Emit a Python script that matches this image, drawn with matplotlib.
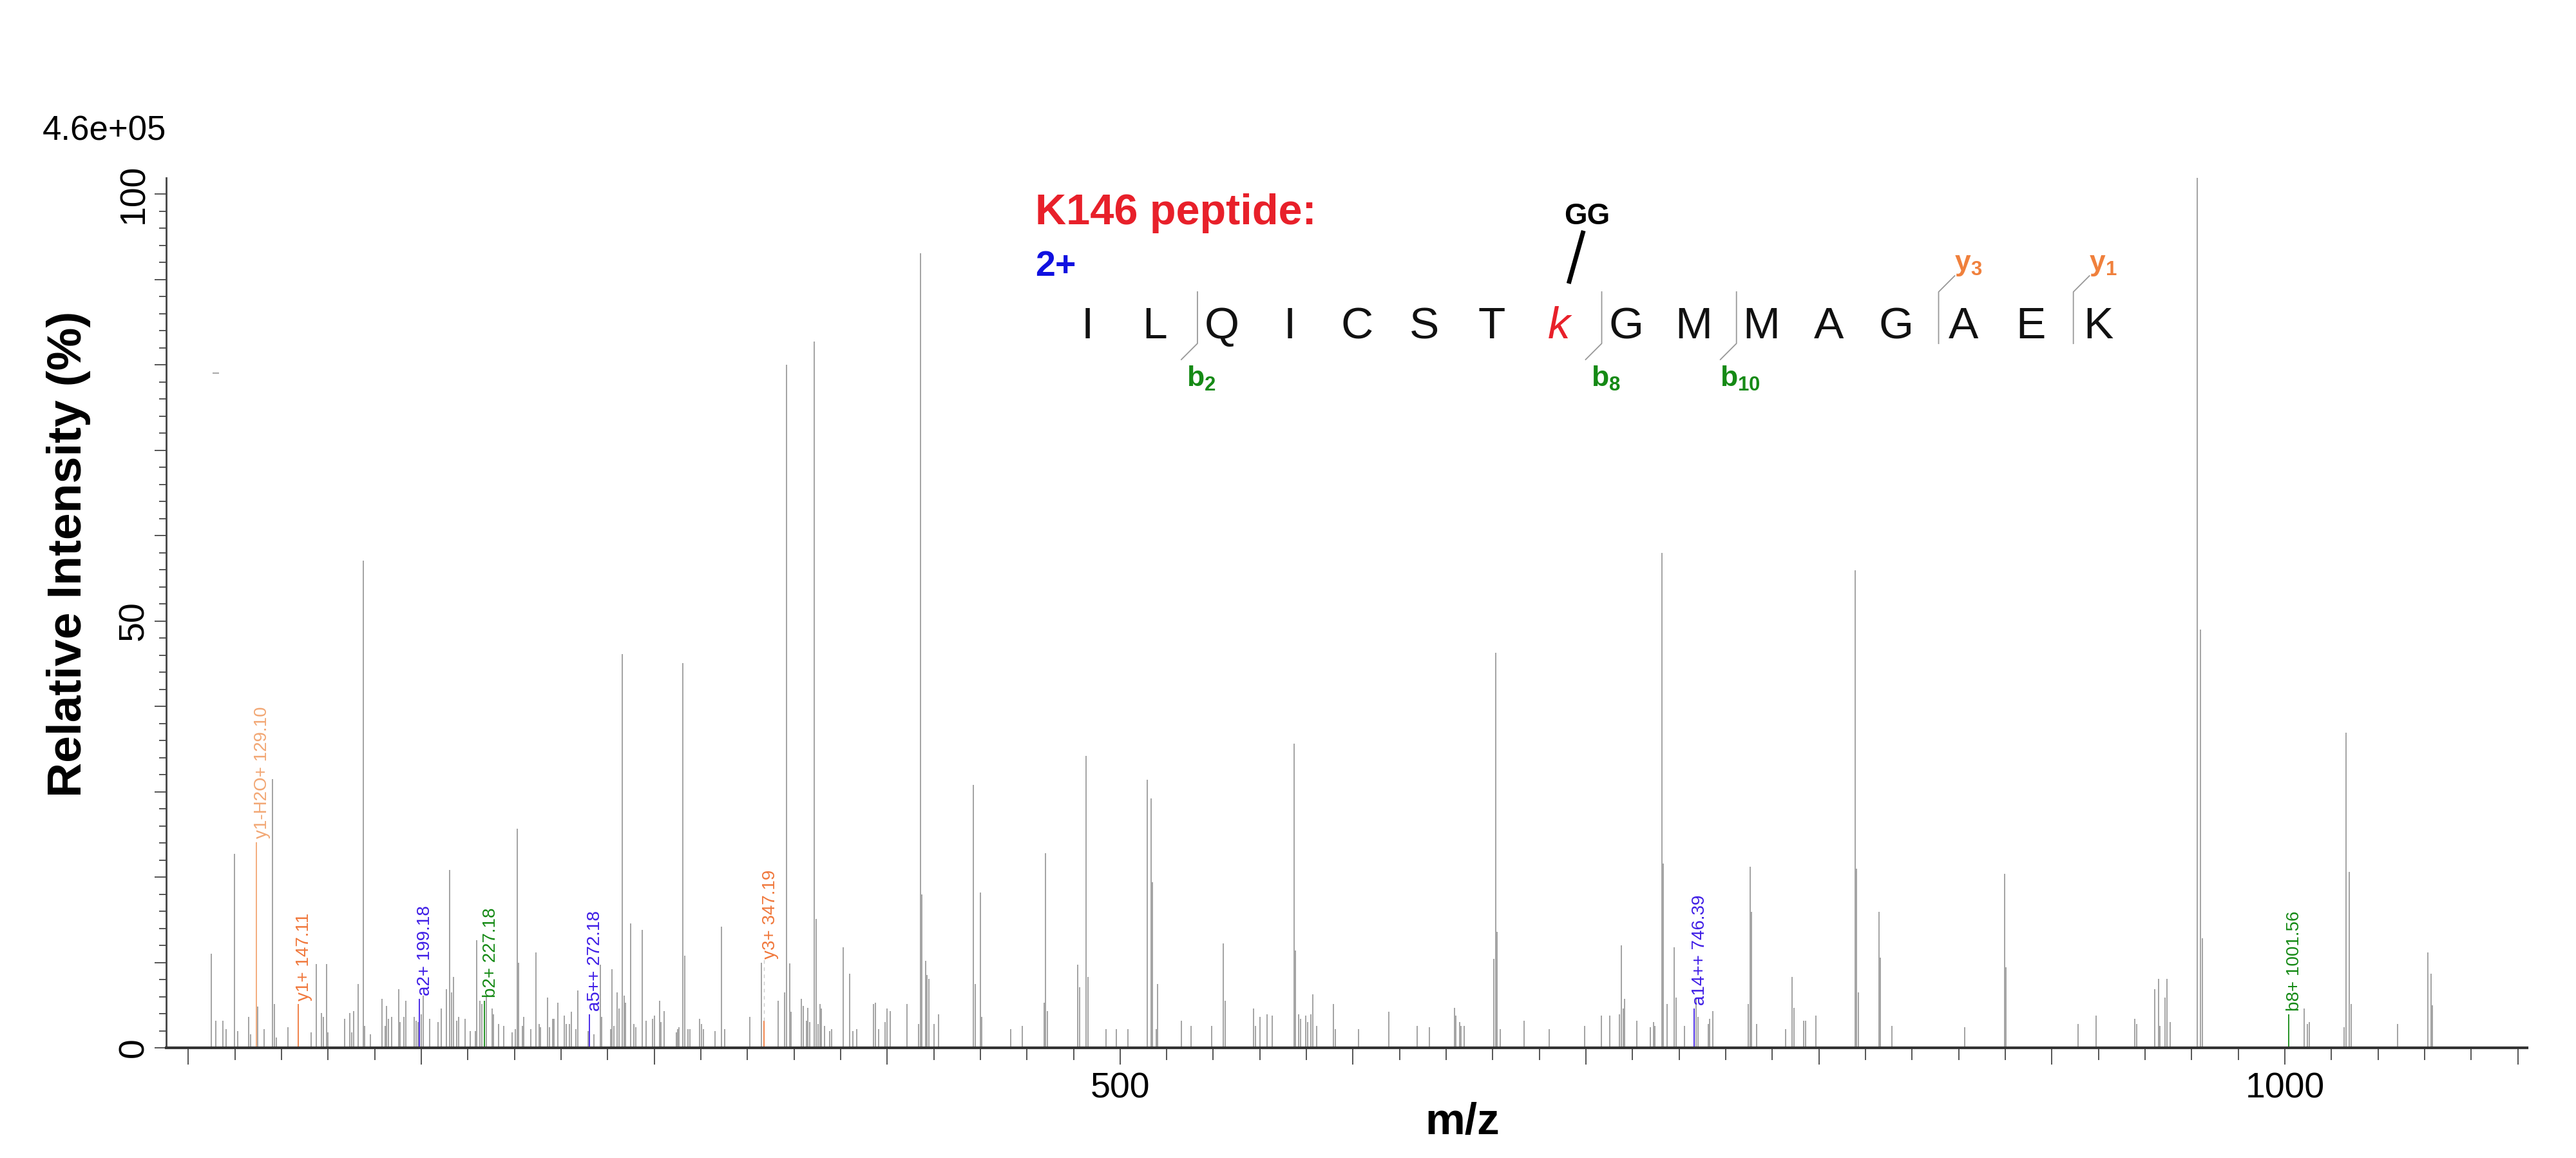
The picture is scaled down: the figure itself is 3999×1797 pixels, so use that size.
import matplotlib.pyplot as plt
from matplotlib.ticker import MultipleLocator, FuncFormatter

plt.rcParams['font.family'] = ['Liberation Sans', 'DejaVu Sans']
plt.rcParams['mathtext.fontset'] = 'custom'
plt.rcParams['mathtext.rm'] = 'Liberation Sans'
plt.rcParams['mathtext.bf'] = 'Liberation Sans:bold'

### Spectrum data (relative intensity %, base peak = 4.6e+05)
peak_mz = [109.9, 111.9, 114.9, 116.3, 119.7, 121.1, 126.0, 126.8, 129.7, 132.6,
           136.1, 136.9, 137.7, 142.7, 152.8, 155.0, 157.1, 157.9, 159.4, 160.0,
           167.2, 169.4, 170.1, 170.9, 173.0, 175.1, 175.8, 178.1, 183.1, 184.4,
           185.2, 186.0, 187.4, 190.4, 191.0, 192.5, 193.3, 197.1, 197.9, 198.6,
           199.9, 200.8, 203.7, 207.3, 208.7, 210.9, 212.3, 213.0, 213.7, 215.2,
           216.1, 218.9, 221.0, 223.2, 223.9, 225.3, 226.1, 227.9, 230.3, 231.1,
           233.3, 235.4, 239.0, 240.4, 241.1, 241.9, 243.3, 244.0, 247.0, 249.2,
           250.5, 251.2, 254.1, 254.9, 256.3, 257.0, 258.5, 261.4, 262.1, 263.5,
           264.4, 266.4, 267.2, 271.5, 274.0, 276.9, 277.5, 281.3, 281.9, 282.7,
           284.1, 284.8, 286.3, 287.0, 287.7, 289.9, 291.4, 292.0, 294.9, 296.4,
           299.2, 300.0, 302.2, 302.9, 304.3, 309.5, 310.1, 310.7, 312.3, 313.0,
           314.4, 315.3, 319.5, 320.2, 321.0, 326.0, 328.8, 330.3, 341.1, 346.1,
           353.1, 355.9, 356.7, 358.1, 358.8, 363.1, 363.9, 365.3, 365.9, 366.7,
           368.8, 369.6, 370.3, 371.1, 371.8, 373.2, 375.4, 376.2, 381.1, 384.0,
           385.4, 386.9, 394.1, 394.9, 396.3, 399.2, 399.9, 401.3, 408.5, 413.6,
           414.3, 415.0, 416.5, 417.2, 417.9, 420.2, 422.2, 437.1, 437.7, 440.0,
           440.7, 453.0, 458.0, 467.4, 468.1, 468.9, 481.8, 482.6, 485.4, 486.1,
           494.1, 498.4, 503.4, 511.8, 513.2, 513.9, 515.4, 516.1, 526.3, 530.4,
           539.2, 544.2, 545.0, 557.2, 558.0, 560.1, 563.0, 565.2, 574.7, 575.3,
           576.7, 577.5, 579.6, 580.4, 581.8, 582.8, 584.3, 591.5, 592.3, 602.3,
           615.3, 627.6, 632.7, 643.5, 644.2, 645.7, 646.3, 647.8, 660.4, 661.2,
           661.8, 663.3, 673.4, 684.2, 699.4, 706.6, 710.2, 714.5, 715.3, 716.0,
           716.7, 721.7, 727.5, 728.9, 729.7, 732.6, 733.2, 734.7, 738.0, 738.6,
           742.3, 747.3, 748.1, 752.4, 753.1, 754.5, 769.7, 770.5, 771.1, 773.3,
           785.6, 788.4, 789.2, 793.5, 794.2, 798.6, 815.6, 816.2, 817.0, 825.7,
           826.3, 831.4, 862.5, 879.7, 880.4, 911.2, 919.1, 935.7, 936.5, 944.3,
           945.7, 946.5, 948.6, 949.4, 950.9, 962.3, 963.8, 964.6, 1008.2, 1009.6,
           1010.4, 1025.5, 1026.2, 1027.6, 1028.4, 1048.3, 1061.3, 1062.7, 1063.4]
peak_int = [11.0, 3.2, 3.2, 2.2, 22.7, 2.0, 3.6, 1.6, 4.8, 2.2,
            31.5, 5.1, 1.2, 2.4, 1.8, 9.8, 4.1, 3.6, 9.8, 1.8,
            3.4, 4.1, 1.8, 4.3, 7.5, 57.1, 2.6, 1.6, 5.7, 2.6,
            4.9, 3.4, 3.6, 6.9, 3.0, 3.6, 5.5, 3.6, 3.2, 3.0,
            3.9, 6.1, 3.4, 3.0, 4.6, 6.9, 20.8, 6.5, 8.3, 3.2,
            3.6, 3.4, 2.0, 2.0, 12.6, 5.5, 5.1, 6.1, 4.6, 3.9,
            2.8, 2.6, 1.8, 2.2, 25.7, 10.0, 2.6, 3.6, 2.2, 11.2,
            2.8, 2.4, 5.9, 2.4, 3.4, 3.4, 5.3, 3.8, 2.8, 2.8,
            4.2, 2.2, 6.7, 2.0, 1.6, 9.7, 3.6, 2.2, 9.2, 2.6,
            6.5, 4.6, 46.1, 6.1, 5.3, 14.6, 2.8, 2.4, 13.8, 3.2,
            3.4, 3.8, 5.5, 3.0, 4.3, 1.8, 2.2, 2.4, 45.1, 10.8,
            2.2, 2.2, 3.4, 2.8, 2.2, 2.0, 14.2, 2.2, 3.6, 10.0,
            5.5, 6.5, 80.0, 9.9, 4.2, 5.7, 4.9, 3.2, 4.7, 3.0,
            82.7, 15.1, 2.8, 5.1, 4.6, 2.6, 2.0, 2.2, 11.8, 8.7,
            2.0, 2.2, 5.1, 5.3, 2.2, 3.0, 4.6, 4.3, 5.1, 2.8,
            93.1, 18.0, 10.2, 8.5, 8.1, 2.8, 3.9, 30.8, 7.5, 18.2,
            3.6, 2.2, 2.6, 5.3, 22.8, 4.3, 9.7, 7.1, 34.2, 8.3,
            2.2, 2.2, 2.2, 31.4, 29.2, 19.4, 2.2, 7.5, 3.2, 2.6,
            2.6, 12.2, 5.5, 4.6, 2.6, 3.6, 3.9, 3.8, 35.6, 11.4,
            3.9, 3.4, 3.8, 3.0, 3.9, 6.3, 2.6, 5.1, 2.2, 2.2,
            4.2, 2.6, 2.4, 4.7, 3.8, 3.0, 2.6, 2.6, 10.4, 46.3,
            13.6, 2.2, 3.2, 2.2, 2.6, 3.8, 3.8, 3.9, 12.0, 4.6,
            5.7, 3.2, 2.4, 3.0, 2.6, 58.0, 21.6, 5.1, 11.8, 5.9,
            2.6, 5.9, 3.6, 2.8, 3.4, 4.3, 5.1, 21.2, 15.9, 2.8,
            2.2, 8.3, 4.7, 3.2, 3.2, 3.8, 55.9, 21.0, 6.5, 15.9,
            10.6, 2.6, 2.4, 20.4, 9.4, 2.8, 3.8, 3.4, 2.8, 6.9,
            8.1, 2.6, 5.9, 8.1, 3.0, 101.9, 49.0, 12.8, 4.6, 2.8,
            3.0, 2.4, 36.9, 20.6, 5.1, 2.8, 11.2, 8.7, 5.0]

# matched fragment ions
ion_labels = ['y1-H2O+', 'y1+', 'a2+', 'b2+', 'a5++', 'y3+', 'a14++', 'b8+']
ion_mz = [129.10, 147.11, 199.18, 227.18, 272.18, 347.19, 746.39, 1001.56]
ion_int = [24.1, 5.1, 5.7, 5.5, 3.9, 3.2, 4.6, 3.9]
ion_colors = ['#f2a774', '#f0783c', '#3f1ee6', '#158a15', '#3f1ee6', '#f0783c', '#3f1ee6', '#158a15']

# stray dash near top left
dash_mz = [110.3, 113.3]
dash_int = 79.0

sequence = 'ILQICSTKGMMAGAEK'
mod_site = 7
b_ions = [2, 8, 10]
y_ions = [3, 1]

W, H = 3999, 1797
fig = plt.figure(figsize=(W / 100, H / 100), dpi=100)
ax = fig.add_axes([258 / W, 1 - 1626 / H, (3923 - 258) / W, (1626 - 276) / H])
ax.set_xlim(90.5, 1104)
ax.set_ylim(0, 101.9)

ax.vlines(peak_mz, 0, peak_int, color='#8a8a8a', lw=1.1)
ax.hlines(dash_int, dash_mz[0], dash_mz[1], color='#aaaaaa', lw=1.5)

for lab, mz, it, c in zip(ion_labels, ion_mz, ion_int, ion_colors):
    ax.vlines(mz, 0, it, color=c, lw=1.3)
    ty = it + 0.4
    if lab == 'y3+':
        ty = 10.4
        ax.vlines(mz, it, ty, color='#cccccc', lw=1.0, linestyles=(0, (4, 4)))
    ax.text(mz + 2.6, ty, '%s %.2f' % (lab, mz), rotation=90, ha='center', va='bottom',
            color=c, fontsize=20)

### Axes styling
for s in ['top', 'right']:
    ax.spines[s].set_visible(False)
ax.spines['left'].set_color('#444444')
ax.spines['left'].set_linewidth(2)
ax.spines['bottom'].set_color('#333333')
ax.spines['bottom'].set_linewidth(3)

ax.xaxis.set_major_locator(MultipleLocator(100))
ax.xaxis.set_minor_locator(MultipleLocator(20))
ax.xaxis.set_major_formatter(FuncFormatter(lambda v, p: '%d' % v if v % 500 == 0 else ''))
ax.yaxis.set_major_locator(MultipleLocator(10))
ax.yaxis.set_minor_locator(MultipleLocator(2))
ax.yaxis.set_major_formatter(FuncFormatter(lambda v, p: '%d' % v if v % 50 == 0 else ''))
ax.tick_params(axis='x', which='major', length=19, width=1.4, color='#555555', labelsize=40, pad=8)
ax.tick_params(axis='x', which='minor', length=13.5, width=1.4, color='#555555')
ax.tick_params(axis='y', which='major', length=13, width=1.4, color='#555555', labelsize=40, pad=4)
ax.tick_params(axis='y', which='minor', length=8, width=1.4, color='#555555')
for t in ax.get_yticklabels():
    t.set_rotation(90)
    t.set_va('center')

fig.text(258 / W, 1 - 217 / H, '4.6e+05', ha='right', va='baseline', fontsize=38)
fig.text(107 / W, 1 - 860 / H, 'Relative Intensity (%)', rotation=90, ha='center', va='center',
         fontsize=54, fontweight='bold')
fig.text(2270 / W, 1 - 1742 / H, 'm/z', ha='center', va='center', fontsize=50, fontweight='bold')

### Peptide diagram (overlay in pixel units)
ov = fig.add_axes([0, 0, 1, 1])
ov.set_xlim(0, W)
ov.set_ylim(H, 0)
ov.axis('off')
ov.patch.set_alpha(0)

ov.text(1607, 348, 'K146 peptide:', color='#e8202a', fontsize=48, fontweight='bold', va='baseline')
ov.text(1607, 428, '2+', color='#1010e0', fontsize=40, fontweight='bold', va='baseline')

x0, step = 1688, 104.6
for i, aa in enumerate(sequence):
    if i == mod_site:
        ov.text(x0 + i * step, 525, aa.lower(), color='#e8202a', fontsize=50, style='italic',
                ha='center', va='baseline')
    else:
        ov.text(x0 + i * step, 525, aa, color='#111111', fontsize=50, ha='center', va='baseline')

xk = x0 + mod_site * step
ov.text(xk + 44, 348, 'GG', fontsize=33, fontweight='bold', ha='center', va='baseline')
ov.plot([xk + 38, xk + 15], [358, 440], color='black', lw=5, solid_capstyle='butt')

for n in b_ions:
    xb = x0 + (n - 0.5) * step + 14
    ov.plot([xb, xb, xb - 25], [453, 533, 558], color='#999999', lw=1.3)
    ov.text(xb + 6, 566, r'$\mathbf{b_{%d}}$' % n, color='#158a15', fontsize=32, ha='center', va='top')
for n in y_ions:
    xb = x0 + (len(sequence) - n - 0.5) * step + 14
    ov.plot([xb, xb, xb + 25], [533, 453, 428], color='#999999', lw=1.3)
    ov.text(xb + 46, 420, r'$\mathbf{y_{%d}}$' % n, color='#f0803c', fontsize=32, ha='center', va='baseline')

fig.savefig('out.png', dpi=100, facecolor='white')
